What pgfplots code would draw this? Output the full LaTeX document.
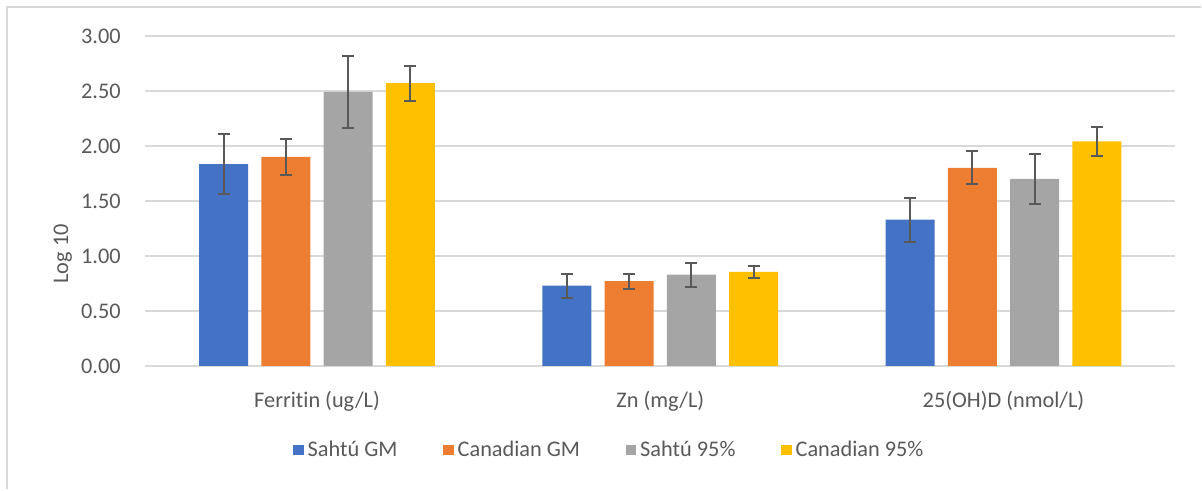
\documentclass[border=0pt]{standalone}
\usepackage{fontspec}
\setmainfont{Carlito}[Ligatures=NoCommon]
\usepackage{pgfplots}
\pgfplotsset{compat=1.18}
\definecolor{cblue}{HTML}{4472C4}
\definecolor{corange}{HTML}{ED7D31}
\definecolor{cgray}{HTML}{A5A5A5}
\definecolor{cyellow}{HTML}{FFC000}
\definecolor{gridc}{HTML}{D9D9D9}
\definecolor{textc}{HTML}{595959}
\definecolor{errc}{HTML}{595959}
\begin{document}
\fontsize{11.2}{13}\selectfont
\begin{tikzpicture}
\begin{axis}[
  name=ax, at={(0,0)}, anchor=south west,
  scale only axis, width=517pt, height=165.75pt,
  xmin=-0.5, xmax=2.5, ymin=0, ymax=3,
  axis line style={draw=none},
  tick style={draw=none},
  ymajorgrids, major grid style={draw=gridc, line width=0.75pt},
  xtick={0,1,2},
  xticklabels={Ferritin (ug/L), Zn (mg/L), 25(OH)D (nmol/L)},
  ytick={0,0.5,1,1.5,2,2.5,3},
  /pgf/number format/assume math mode=true,
  yticklabel style={/pgf/number format/fixed, /pgf/number format/fixed zerofill, /pgf/number format/precision=2, xshift=-8.5pt},
  xticklabel style={yshift=-4.5pt},
  tick label style={font=\fontsize{11.2}{13}\selectfont, text=textc},
  ylabel={Log 10},
  ylabel style={at={(axis description cs:-0.0803,0.34)}, anchor=center, font=\fontsize{11.2}{13}\selectfont, text=textc},
  ybar, bar width=0.1422,
  error bars/y dir=both, error bars/y explicit,
  error bars/error bar style={draw=errc, line width=1pt},
  error bars/error mark options={draw=errc, line width=1pt, mark size=3pt, rotate=90},
  legend style={at={(0.4516,-0.255)}, anchor=center, legend columns=4, draw=none, fill=none,
    font=\fontsize{11.2}{13}\selectfont, text=textc,
    /tikz/every even column/.append style={column sep=21pt}},
  legend image code/.code={\fill[#1] (0pt,-2.6pt) rectangle (5.2pt,2.6pt);},
]
\addplot+[fill=cblue, draw=none, bar shift=-0.272] coordinates {
  (0,1.835) +- (0,0.275)
  (1,0.73) +- (0,0.11)
  (2,1.33) +- (0,0.20)
};
\addplot+[fill=corange, draw=none, bar shift=-0.0907] coordinates {
  (0,1.90) +- (0,0.16)
  (1,0.77) +- (0,0.07)
  (2,1.80) +- (0,0.15)
};
\addplot+[fill=cgray, draw=none, bar shift=0.0907] coordinates {
  (0,2.49) +- (0,0.33)
  (1,0.83) +- (0,0.11)
  (2,1.70) +- (0,0.23)
};
\addplot+[fill=cyellow, draw=none, bar shift=0.272] coordinates {
  (0,2.57) +- (0,0.16)
  (1,0.855) +- (0,0.056)
  (2,2.04) +- (0,0.13)
};
\legend{Sahtú GM, Canadian GM, Sahtú 95\%, Canadian 95\%}
\end{axis}
\draw[gridc, line width=1pt] (-69.5pt,-62pt) -- (-69.5pt,180.25pt) -- (530pt,180.25pt);
\useasboundingbox (-73pt,-60.75pt) rectangle (528pt,183.75pt);
\end{tikzpicture}
\end{document}
